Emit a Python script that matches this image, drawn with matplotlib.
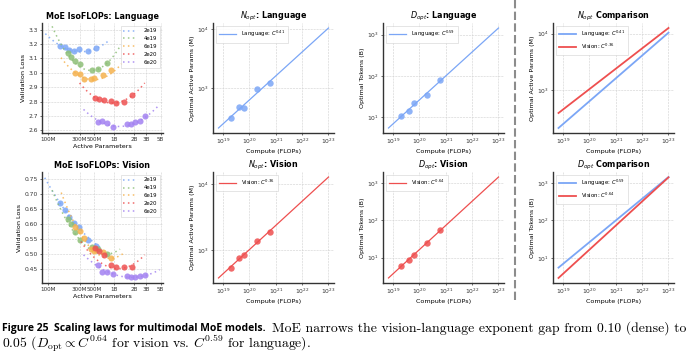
import numpy as np
import matplotlib
matplotlib.use("Agg")
import matplotlib.pyplot as plt
from matplotlib.lines import Line2D
from matplotlib.ticker import FixedLocator, FixedFormatter, NullLocator, LogLocator

# ---- data ----
budgets = ["2e19", "4e19", "6e19", "2e20", "6e20"]
compute = [2e19, 4e19, 6e19, 2e20, 6e20]
iso_colors = ["#7ba6f6", "#8dbf77", "#f5b24e", "#ee5151", "#a382f1"]

# active params (M) of each IsoFLOP run
iso_sizes = [
    [150, 178, 210, 245, 295, 400, 530],
    [200, 221, 257, 305, 457, 562, 767],
    [257, 299, 350, 441, 490, 684, 890],
    [518, 595, 692, 890, 1050, 1390, 1820],
    [562, 661, 785, 966, 1530, 1780, 2080, 2400, 2900],
]
lang_loss = [
    [3.185, 3.180, 3.160, 3.150, 3.167, 3.150, 3.175],
    [3.140, 3.110, 3.080, 3.058, 3.020, 3.024, 3.068],
    [2.998, 2.994, 2.957, 2.960, 2.965, 2.985, 3.020],
    [2.824, 2.820, 2.808, 2.803, 2.790, 2.795, 2.843],
    [2.657, 2.664, 2.653, 2.620, 2.646, 2.641, 2.657, 2.662, 2.700],
]
vis_loss = [
    [0.671, 0.646, 0.624, 0.605, 0.589, 0.548, 0.528],
    [0.615, 0.599, 0.574, 0.548, 0.524, 0.518, 0.500],
    [0.589, 0.577, 0.555, 0.517, 0.512, 0.506, 0.487],
    [0.520, 0.511, 0.498, 0.466, 0.458, 0.458, 0.458],
    [0.466, 0.441, 0.440, 0.435, 0.429, 0.425, 0.425, 0.427, 0.432],
]
# dotted quadratic fits: left end, low point, right end (size M, loss)
lang_fit_x = [[91, 398, 861], [115, 484, 1220], [157, 394, 1290], [299, 1080, 2880], [343, 1290, 4840]]
lang_fit_y = [[3.272, 3.151, 3.230], [3.323, 3.017, 3.184], [3.105, 2.957, 3.063],
              [2.929, 2.792, 2.929], [2.745, 2.627, 2.780]]
vis_fit_x = [[89, 243, 610], [115, 767, 1220], [158, 910, 1390], [313, 1530, 2880], [343, 2040, 4840]]
vis_fit_y = [[0.753, 0.608, 0.523], [0.712, 0.500, 0.517], [0.704, 0.487, 0.504],
             [0.542, 0.457, 0.498], [0.498, 0.424, 0.449]]

size_ticks = [100, 300, 500, 1000, 2000, 3000, 5000]
size_labels = ["100M", "300M", "500M", "1B", "2B", "3B", "5B"]

n_opt_lang = [312, 472, 460, 962, 1200]
d_opt_lang = [10.8, 14.2, 21.7, 33.9, 81.0]
n_opt_vis = [547, 769, 863, 1393, 1893]
d_opt_vis = [6.2, 8.8, 11.8, 24.7, 55.0]
exp_n_lang, exp_d_lang = "0.41", "0.59"
exp_n_vis, exp_d_vis = "0.36", "0.64"
c_max = 1e23

lang_color = "#7ba6f6"
vis_color = "#ee4f4f"

caption_bold = "Figure 25  Scaling laws for multimodal MoE models."
caption_1 = "MoE narrows the vision-language exponent gap from 0.10 (dense) to"
caption_2 = r"0.05 ($D_{\mathrm{opt}} \propto C^{0.64}$ for vision vs. $C^{0.59}$ for language)."

plt.rcParams["font.family"] = "DejaVu Sans"

fig = plt.figure(figsize=(6.9, 3.58), dpi=100)
W, H = 690.0, 358.0


def add_ax(left, top, w, h):
    return fig.add_axes([left / W, 1 - (top + h) / H, w / W, h / H])


def style(ax):
    for s in ["top", "right"]:
        ax.spines[s].set_visible(False)
    for s in ["left", "bottom"]:
        ax.spines[s].set_linewidth(1.0)
        ax.spines[s].set_color("#333333")
    ax.grid(True, which="major", ls="--", lw=0.4, color="#cfcfcf")
    ax.set_axisbelow(True)
    ax.tick_params(labelsize=4.3, length=1.5, width=0.5, pad=1.5, colors="#333333")
    ax.tick_params(which="minor", length=0)


def iso_panel(ax, losses, fx, fy, title, ylim, yticks):
    for i in range(len(budgets)):
        lx = np.log10(fx[i])
        coef = np.polyfit(lx, fy[i], 2)
        xs = np.linspace(lx[0], lx[-1], 60)
        ax.plot(10 ** xs, np.polyval(coef, xs), ls=(0, (1, 2.2)), lw=1.1,
                color=iso_colors[i], alpha=0.85, label=budgets[i])
        ax.plot(iso_sizes[i], losses[i], "o", ms=4.4, color=iso_colors[i],
                alpha=0.85, mec="none")
    ax.set_xscale("log")
    ax.set_xlim(81, 5430)
    ax.set_ylim(*ylim)
    ax.xaxis.set_major_locator(FixedLocator(size_ticks))
    ax.xaxis.set_major_formatter(FixedFormatter(size_labels))
    ax.xaxis.set_minor_locator(NullLocator())
    ax.set_yticks(yticks)
    style(ax)
    ax.tick_params(axis="x", labelsize=4.1)
    ax.set_title(title, fontsize=5.8, fontweight="bold", pad=3)
    ax.set_xlabel("Active Parameters", fontsize=4.6, labelpad=1.5)
    ax.set_ylabel("Validation Loss", fontsize=4.6, labelpad=1.5)
    ax.legend(loc="upper right", fontsize=3.9, handlelength=2.2, labelspacing=0.55,
              borderpad=0.5, handletextpad=1.6, framealpha=0.9, edgecolor="#cccccc",
              fancybox=False).get_frame().set_linewidth(0.4)


def fit_line(c, v):
    coef = np.polyfit(np.log10(c), np.log10(v), 1)
    cx = np.array([min(c) / 3.0, c_max])
    return cx, 10 ** np.polyval(coef, np.log10(cx))


def log_style(ax, ylabel, title):
    ax.set_xscale("log")
    ax.set_yscale("log")
    ax.xaxis.set_major_locator(LogLocator(base=10, numticks=10))
    ax.yaxis.set_major_locator(LogLocator(base=10, numticks=10))
    ax.xaxis.set_minor_locator(NullLocator())
    ax.yaxis.set_minor_locator(NullLocator())
    style(ax)
    ax.set_title(title, fontsize=5.8, fontweight="bold", pad=3)
    ax.set_xlabel("Compute (FLOPs)", fontsize=4.6, labelpad=1.5)
    ax.set_ylabel(ylabel, fontsize=4.6, labelpad=1.5)
    ax.legend(loc="upper left", fontsize=3.9, handlelength=3.2, borderpad=0.6,
              handletextpad=0.8, labelspacing=0.5, framealpha=0.9,
              edgecolor="#cccccc", fancybox=False).get_frame().set_linewidth(0.4)


def scaling_panel(ax, vals, color, name, exp, ylabel, title):
    cx, cy = fit_line(compute, vals)
    ax.plot(cx, cy, color=color, lw=0.9, label=f"{name}: $C^{{{exp}}}$")
    ax.plot(compute, vals, "o", ms=4.6, color=color, alpha=0.85, mec="none")
    log_style(ax, ylabel, title)


def compare_panel(ax, lang_vals, vis_vals, exps, ylabel, title):
    cx, cy = fit_line(compute, lang_vals)
    ax.plot(cx, cy, color=lang_color, lw=1.3, label=f"Language: $C^{{{exps[0]}}}$")
    cx, cy = fit_line(compute, vis_vals)
    ax.plot(cx, cy, color=vis_color, lw=1.3, label=f"Vision: $C^{{{exps[1]}}}$")
    log_style(ax, ylabel, title)


lefts = [42, 213, 383, 553]
aw = 121
top_row = (23, 110)
bot_row = (172, 111)

ax = add_ax(lefts[0], top_row[0], aw, top_row[1])
iso_panel(ax, lang_loss, lang_fit_x, lang_fit_y, "MoE IsoFLOPs: Language",
          (2.581, 3.346), [2.6, 2.7, 2.8, 2.9, 3.0, 3.1, 3.2, 3.3])
ax = add_ax(lefts[0], bot_row[0], aw, bot_row[1])
iso_panel(ax, vis_loss, vis_fit_x, vis_fit_y, "MoE IsoFLOPs: Vision",
          (0.405, 0.772), [0.45, 0.50, 0.55, 0.60, 0.65, 0.70, 0.75])

ax = add_ax(lefts[1], top_row[0], aw, top_row[1])
scaling_panel(ax, n_opt_lang, lang_color, "Language", exp_n_lang,
              "Optimal Active Params (M)", r"$N_{opt}$: Language")
ax = add_ax(lefts[2], top_row[0], aw, top_row[1])
scaling_panel(ax, d_opt_lang, lang_color, "Language", exp_d_lang,
              "Optimal Tokens (B)", r"$D_{opt}$: Language")
ax = add_ax(lefts[3], top_row[0], aw, top_row[1])
compare_panel(ax, n_opt_lang, n_opt_vis, (exp_n_lang, exp_n_vis),
              "Optimal Active Params (M)", r"$N_{opt}$ Comparison")

ax = add_ax(lefts[1], bot_row[0], aw, bot_row[1])
scaling_panel(ax, n_opt_vis, vis_color, "Vision", exp_n_vis,
              "Optimal Active Params (M)", r"$N_{opt}$: Vision")
ax = add_ax(lefts[2], bot_row[0], aw, bot_row[1])
scaling_panel(ax, d_opt_vis, vis_color, "Vision", exp_d_vis,
              "Optimal Tokens (B)", r"$D_{opt}$: Vision")
ax = add_ax(lefts[3], bot_row[0], aw, bot_row[1])
compare_panel(ax, d_opt_lang, d_opt_vis, (exp_d_lang, exp_d_vis),
              "Optimal Tokens (B)", r"$D_{opt}$ Comparison")

# dashed separator between the per-modality and comparison columns
fig.add_artist(Line2D([515 / W, 515 / W], [1.0, 1 - 303 / H], transform=fig.transFigure,
                      color="#8c8c8c", lw=1.5, ls=(0, (4, 1.6))))

# caption: fit the bold lead-in and the serif text to the reference widths
renderer = fig.canvas.get_renderer()
y1 = 1 - 328 / H
y2 = 1 - 344 / H
t1 = fig.text(2 / W, y1, caption_bold, fontsize=8.6, fontweight="bold",
              family="Open Sans", va="center", ha="left")
t1.set_fontsize(8.6 * 262 / t1.get_window_extent(renderer).width)
t2 = fig.text(272 / W, y1, caption_1, fontsize=9.0, family="cmr10",
              va="center", ha="left")
serif_size = 9.0 * 414 / t2.get_window_extent(renderer).width
t2.set_fontsize(serif_size)
fig.text(2 / W, y2, caption_2, fontsize=serif_size, family="cmr10",
         math_fontfamily="cm", va="center", ha="left")

fig.savefig("out.png", dpi=100)
